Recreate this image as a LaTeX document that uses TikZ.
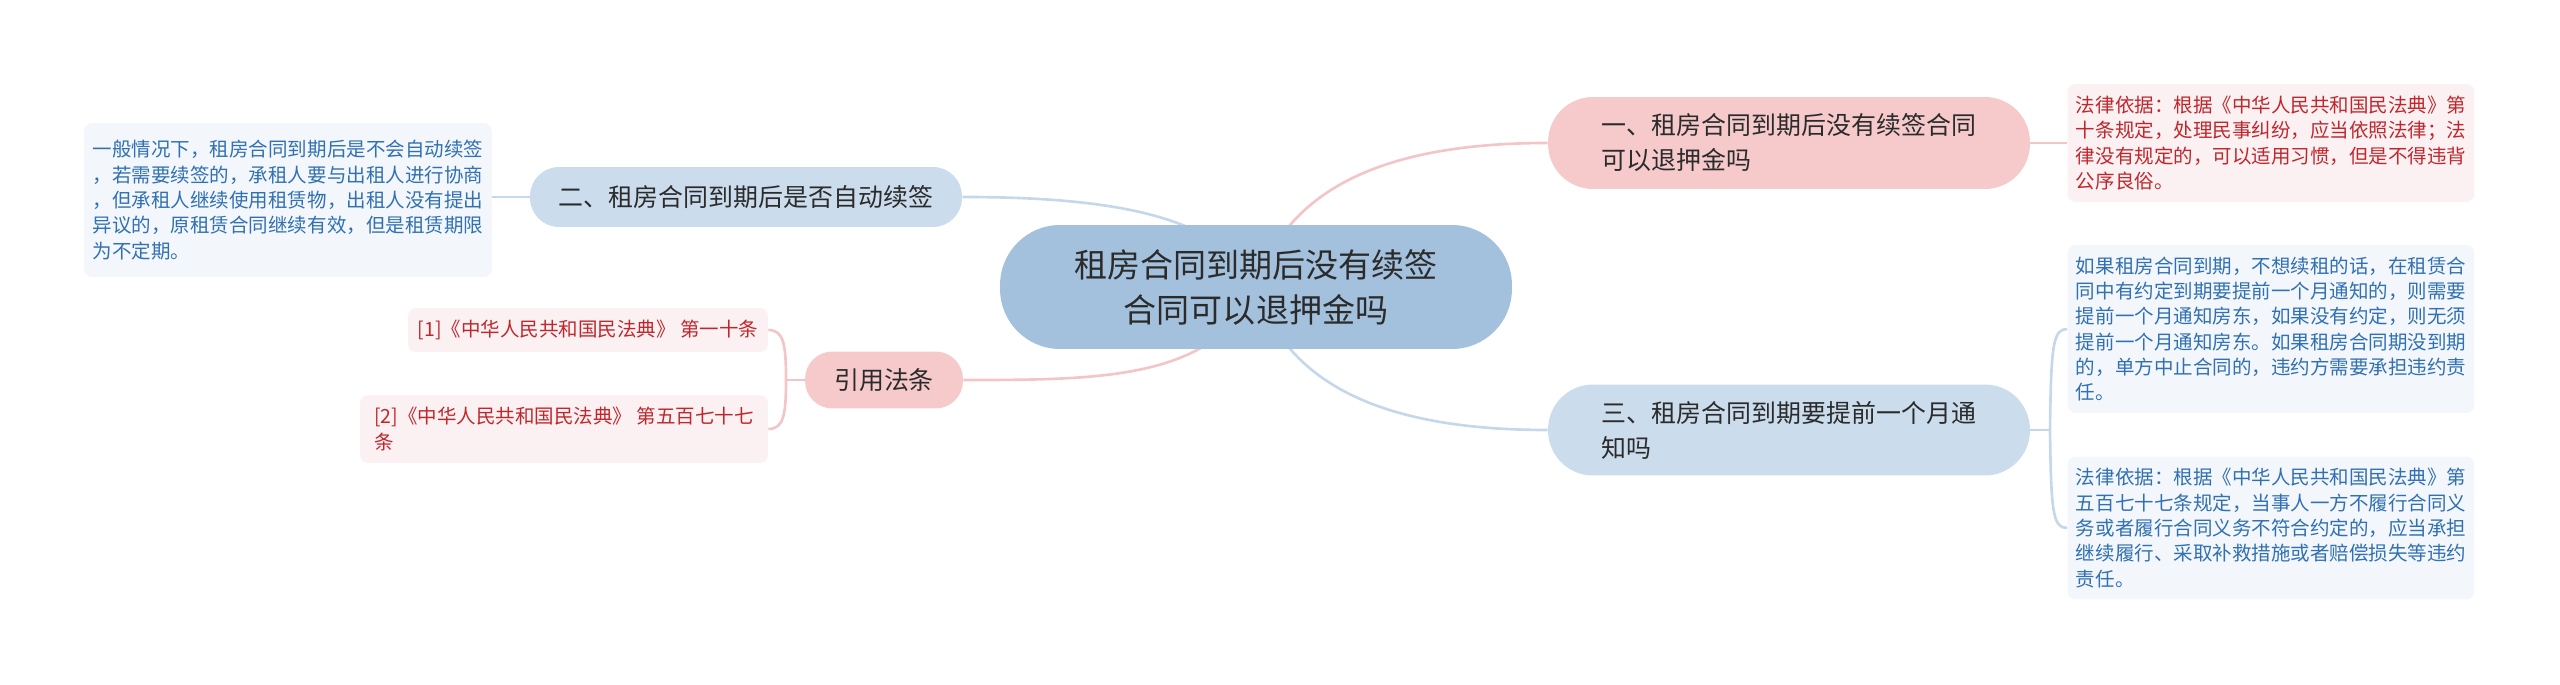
\documentclass[tikz,border=0pt]{standalone}
\usepackage{fontspec}
\newfontfamily\cjk{Noto Sans CJK SC}
\usetikzlibrary{backgrounds}
\definecolor{mmroot}{HTML}{A3C1DD}
\definecolor{mmblue}{HTML}{CBDCED}
\definecolor{mmpink}{HTML}{F6CACB}
\definecolor{mmblueline}{HTML}{C5D7EA}
\definecolor{mmpinkline}{HTML}{F3C5C7}
\definecolor{mmblueleaf}{HTML}{F3F7FC}
\definecolor{mmpinkleaf}{HTML}{FCF1F2}
\definecolor{mmbluetext}{HTML}{3070B3}
\definecolor{mmredtext}{HTML}{C0272D}
\definecolor{mmdark}{HTML}{2B2B2B}
\newcommand\mmrootsize{\fontsize{18.8pt}{25.6pt}\selectfont}
\newcommand\mmtopicsize{\fontsize{14.2pt}{19.9pt}\selectfont}
\newcommand\mmleafsize{\fontsize{11.1pt}{14.4pt}\selectfont}
\tikzset{
  rootbox/.style={font=\cjk\mmrootsize, text=mmdark, fill=mmroot, align=center,
    minimum width=10.24cm, minimum height=2.48cm, rounded corners=1.2cm, inner sep=0pt},
  topicbox/.style={font=\cjk\mmtopicsize, text=mmdark, align=left, inner sep=0pt},
  blueleafbox/.style={font=\cjk\mmleafsize, text=mmbluetext, fill=mmblueleaf, align=left,
    rounded corners=0.16cm, inner sep=0pt},
  pinkleafbox/.style={font=\cjk\mmleafsize, text=mmredtext, fill=mmpinkleaf, align=left,
    rounded corners=0.16cm, inner sep=0pt},
  blueedge/.style={draw=mmblueline, line width=1.5pt},
  pinkedge/.style={draw=mmpinkline, line width=1.5pt}
}

\begin{document}
\begin{tikzpicture}[x=0.02cm, y=-0.02cm]
\useasboundingbox (0,0) rectangle (2560,685);

\node[rootbox] (root) at (1256,287) {租房合同到期后没有续签\\合同可以退押金吗};

\node[topicbox, fill=mmpink, minimum width=9.64cm, minimum height=1.84cm, rounded corners=0.9cm]
  (t1) at (1789,143) {一、租房合同到期后没有续签合同\\可以退押金吗};
\node[topicbox, fill=mmblue, minimum width=8.64cm, minimum height=1.2cm, rounded corners=0.58cm]
  (t2) at (746,197) {二、租房合同到期后是否自动续签};
\node[topicbox, fill=mmblue, minimum width=9.64cm, minimum height=1.82cm, rounded corners=0.9cm]
  (t3) at (1789,430) {三、租房合同到期要提前一个月通\\知吗};
\node[topicbox, fill=mmpink, minimum width=3.16cm, minimum height=1.14cm, rounded corners=0.55cm]
  (cite) at (884,380) {引用法条};

\node[pinkleafbox, minimum width=8.14cm, minimum height=2.36cm] (t1a) at (2271,143)
  {法律依据：根据《中华人民共和国民法典》第\\十条规定，处理民事纠纷，应当依照法律；法\\律没有规定的，可以适用习惯，但是不得违背\\公序良俗。};
\node[blueleafbox, minimum width=8.16cm, minimum height=3.08cm] (t2a) at (288,200)
  {一般情况下，租房合同到期后是不会自动续签\\，若需要续签的，承租人要与出租人进行协商\\，但承租人继续使用租赁物，出租人没有提出\\异议的，原租赁合同继续有效，但是租赁期限\\为不定期。};
\node[blueleafbox, minimum width=8.14cm, minimum height=3.36cm] (t3a) at (2271,329)
  {如果租房合同到期，不想续租的话，在租赁合\\同中有约定到期要提前一个月通知的，则需要\\提前一个月通知房东，如果没有约定，则无须\\提前一个月通知房东。如果租房合同期没到期\\的，单方中止合同的，违约方需要承担违约责\\任。};
\node[blueleafbox, minimum width=8.14cm, minimum height=2.86cm] (t3b) at (2271,528)
  {法律依据：根据《中华人民共和国民法典》第\\五百七十七条规定，当事人一方不履行合同义\\务或者履行合同义务不符合约定的，应当承担\\继续履行、采取补救措施或者赔偿损失等违约\\责任。};
\node[pinkleafbox, minimum width=7.2cm, minimum height=0.88cm] (cite1) at (588,330)
  {[1]《中华人民共和国民法典》 第一十条};
\node[pinkleafbox, minimum width=8.16cm, minimum height=1.36cm] (cite2) at (564,429)
  {[2]《中华人民共和国民法典》 第五百七十七\\条};

\coordinate (j3) at (2050,430);
\coordinate (jc) at (786,380);

\begin{scope}[on background layer]
\draw[pinkedge] (root.center) .. controls (1290,180) and (1400,143) .. (t1.west);
\draw[blueedge] (root.center) .. controls (1222,215) and (1110,197) .. (t2.east);
\draw[blueedge] (root.center) .. controls (1290,394) and (1400,430) .. (t3.west);
\draw[pinkedge] (root.center) .. controls (1215,380) and (1100,380) .. (cite.east);
\draw[pinkedge] (t1.east) -- (t1a.west);
\draw[blueedge] (t2.west) -- (t2a.east |- t2.west);
\draw[blueedge] (t3.east) -- (j3);
\draw[blueedge] (j3) .. controls (2051,345) and (2053,329) .. (t3a.west);
\draw[blueedge] (j3) .. controls (2051,513) and (2053,528) .. (t3b.west);
\draw[pinkedge] (cite.west) -- (jc);
\draw[pinkedge] (jc) .. controls (786,345) and (784,330) .. (cite1.east);
\draw[pinkedge] (jc) .. controls (786,414) and (784,429) .. (cite2.east);
\end{scope}
\end{tikzpicture}
\end{document}
